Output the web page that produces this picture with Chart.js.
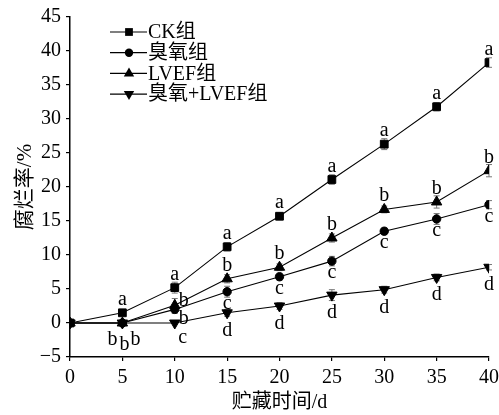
<!DOCTYPE html>
<html>
<head>
<meta charset="utf-8">
<script src="https://cdn.jsdelivr.net/npm/chart.js@4/dist/chart.umd.min.js"></script>
<style>
  html, body { margin: 0; padding: 0; background: #fff; }
  canvas { display: block; }
</style>
</head>
<body>
<canvas id="chart" width="499" height="415"></canvas>
<script>
// storage time (d)
const days = [0, 5, 10, 15, 20, 25, 30, 35, 40];
const seriesNames = ['CK组', '臭氧组', 'LVEF组', '臭氧+LVEF组'];

// decay rate (%)
const ck = [0, 1.5, 5.2, 11.2, 15.7, 21.1, 26.3, 31.8, 38.3];
const ozone = [0, 0, 2.0, 4.6, 6.8, 9.1, 13.5, 15.3, 17.4];
const lvef = [0, 0, 2.6, 6.5, 8.2, 12.5, 16.7, 17.8, 22.4];
const ozoneLvef = [0, 0, 0, 1.5, 2.5, 4.1, 4.9, 6.7, 8.2];

// error bars
const ckErr = [0, 0.3, 0.8, 0.6, 0.5, 0.7, 0.8, 0.6, 0.7];
const ozoneErr = [0, 0, 0.6, 0.8, 0.5, 0.7, 0.5, 0.8, 0.6];
const lvefErr = [0, 0, 1.0, 0.6, 0.5, 0.6, 0.5, 0.9, 0.9];
const ozoneLvefErr = [0, 0, 0, 0.5, 0.5, 0.8, 0.5, 0.5, 0.4];

// significance letters
const ckSig = ['', 'a', 'a', 'a', 'a', 'a', 'a', 'a', 'a'];
const ozoneSig = ['', 'b', 'b', 'c', 'c', 'c', 'c', 'c', 'c'];
const lvefSig = ['', 'b', 'b', 'b', 'b', 'b', 'b', 'b', 'b'];
const ozoneLvefSig = ['', 'b', 'c', 'd', 'd', 'd', 'd', 'd', 'd'];

const yTicks = [-5, 0, 5, 10, 15, 20, 25, 30, 35, 40, 45];

const serif = '"Liberation Serif", "Noto Sans CJK SC", serif';

// letter offsets in px (default per series, a few crowded points moved by hand)
const letterShift = [
  { dx: 0, dy: -8 },
  { dx: 0, dy: 17 },
  { dx: 0, dy: -8 },
  { dx: 0, dy: 23 }
];
const letterOverride = {
  '1-1': { dx: -10, dy: 22 },
  '2-1': { dx: 13, dy: 22 },
  '3-1': { dx: 2, dy: 27 },
  '2-2': { dx: 9, dy: 1 },
  '1-2': { dx: 9, dy: 15 },
  '3-2': { dx: 8, dy: 20 }
};

const pts = arr => days.map((d, i) => ({ x: d, y: arr[i] }));

function drawMarker(ctx, style, rotation, r, x, y) {
  ctx.save();
  ctx.fillStyle = '#000';
  ctx.beginPath();
  if (style === 'rect') {
    const s = r * Math.SQRT1_2;
    ctx.rect(x - s, y - s, 2 * s, 2 * s);
  } else if (style === 'circle') {
    ctx.arc(x, y, r, 0, Math.PI * 2);
  } else {
    const dir = rotation === 180 ? -1 : 1;
    ctx.moveTo(x, y - dir * r);
    ctx.lineTo(x - r * 0.866, y + dir * r * 0.5);
    ctx.lineTo(x + r * 0.866, y + dir * r * 0.5);
    ctx.closePath();
  }
  ctx.fill();
  ctx.restore();
}

const extras = {
  id: 'extras',
  beforeDatasetsDraw(chart) {
    const { ctx, scales: { x, y } } = chart;
    ctx.save();
    ctx.strokeStyle = '#777';
    ctx.lineWidth = 1;
    chart.data.datasets.forEach(ds => {
      ds.err.forEach((e, i) => {
        if (!e) return;
        const px = x.getPixelForValue(days[i]);
        const top = y.getPixelForValue(ds.data[i].y + e);
        const bot = y.getPixelForValue(ds.data[i].y - e);
        ctx.beginPath();
        ctx.moveTo(px, top); ctx.lineTo(px, bot);
        ctx.moveTo(px - 3, top); ctx.lineTo(px + 3, top);
        ctx.moveTo(px - 3, bot); ctx.lineTo(px + 3, bot);
        ctx.stroke();
      });
    });
    ctx.restore();
  },
  afterDraw(chart) {
    const { ctx, scales: { x, y } } = chart;
    ctx.save();
    // significance letters
    ctx.fillStyle = '#000';
    ctx.font = '20px ' + serif;
    ctx.textAlign = 'center';
    ctx.textBaseline = 'alphabetic';
    chart.data.datasets.forEach((ds, si) => {
      ds.sig.forEach((s, i) => {
        if (!s) return;
        const off = letterOverride[si + '-' + i] || letterShift[si];
        const px = x.getPixelForValue(days[i]) + off.dx;
        const py = y.getPixelForValue(ds.data[i].y) + off.dy;
        ctx.fillText(s, px, py);
      });
    });
    // legend: line with marker, then name
    ctx.textAlign = 'left';
    ctx.textBaseline = 'middle';
    chart.data.datasets.forEach((ds, si) => {
      const ly = 32 + si * 20.7;
      ctx.strokeStyle = '#000';
      ctx.lineWidth = 1.2;
      ctx.beginPath();
      ctx.moveTo(110, ly); ctx.lineTo(147, ly);
      ctx.stroke();
      drawMarker(ctx, ds.pointStyle, ds.pointRotation, ds.pointRadius, 129, ly);
      ctx.fillText(ds.label, 148, ly + 1);
    });
    ctx.restore();
  }
};

function makeSet(label, arr, err, sig, style, radius, rotation) {
  return {
    label,
    data: pts(arr),
    err,
    sig,
    borderColor: '#000',
    backgroundColor: '#000',
    borderWidth: 1.1,
    pointStyle: style,
    pointRadius: radius,
    pointRotation: rotation,
    pointBorderWidth: 1,
    pointBackgroundColor: '#000',
    pointBorderColor: '#000',
    tension: 0
  };
}

new Chart(document.getElementById('chart'), {
  type: 'line',
  data: {
    datasets: [
      makeSet(seriesNames[0], ck, ckErr, ckSig, 'rect', 5.5, 0),
      makeSet(seriesNames[1], ozone, ozoneErr, ozoneSig, 'circle', 4.2, 0),
      makeSet(seriesNames[2], lvef, lvefErr, lvefSig, 'triangle', 6, 0),
      makeSet(seriesNames[3], ozoneLvef, ozoneLvefErr, ozoneLvefSig, 'triangle', 6, 180)
    ]
  },
  options: {
    responsive: false,
    devicePixelRatio: 1,
    animation: false,
    layout: { padding: { top: 17, right: 10, left: 0, bottom: 0 } },
    plugins: { legend: { display: false }, tooltip: { enabled: false } },
    scales: {
      x: {
        type: 'linear',
        min: 0,
        max: 40,
        afterFit: s => { s.height = 58; s.paddingRight = 0; s.paddingLeft = 0; },
        ticks: { stepSize: 5, color: '#000', padding: 5, font: { family: serif, size: 20 } },
        grid: { display: true, drawOnChartArea: false, drawTicks: true, tickLength: 4, color: '#000', lineWidth: 1.2 },
        border: { display: true, color: '#000', width: 1.5 },
        title: { display: true, text: '贮藏时间/d', color: '#000', padding: { top: 0, bottom: 0 }, font: { family: serif, size: 20 } }
      },
      y: {
        min: -5,
        max: 45,
        afterFit: s => { s.width = 70; },
        afterBuildTicks: s => { s.ticks = yTicks.map(v => ({ value: v })); },
        ticks: {
          color: '#000',
          padding: 5,
          font: { family: serif, size: 20 },
          callback: v => String(v).replace('-', '\u2212')
        },
        grid: { display: true, drawOnChartArea: false, drawTicks: true, tickLength: 4, color: '#000', lineWidth: 1.2 },
        border: { display: true, color: '#000', width: 1.5 },
        title: { display: true, text: '腐烂率/%', color: '#000', padding: { top: 13, bottom: 0 }, font: { family: serif, size: 21 } }
      }
    }
  },
  plugins: [extras]
});
</script>
</body>
</html>
